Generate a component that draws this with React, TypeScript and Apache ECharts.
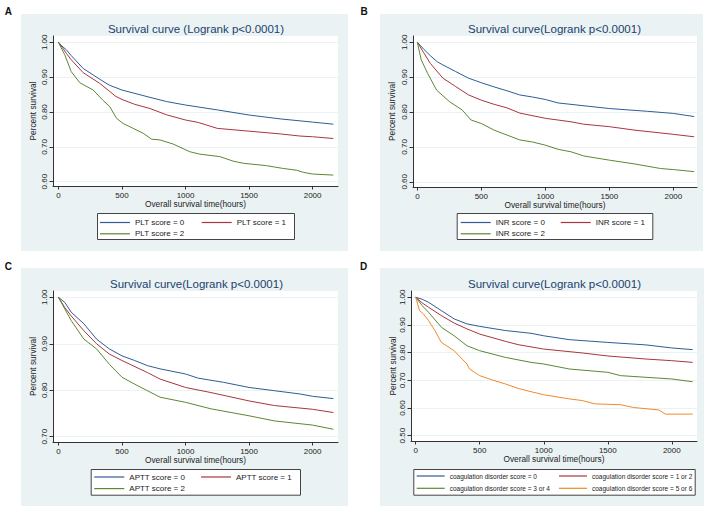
import React, { useEffect, useRef } from "react";
import * as echarts from "echarts";

// ---------- data ----------
const xTicks = [0, 500, 1000, 1500, 2000];
const yTicksAB = [0.6, 0.7, 0.8, 0.9, 1.0];
const yTicksC = [0.7, 0.8, 0.9, 1.0];
const yTicksD = [0.5, 0.6, 0.7, 0.8, 0.9, 1.0];

const panelTitles = [
  "Survival curve (Logrank p<0.0001)",
  "Survival curve(Logrank p<0.0001)",
  "Survival curve(Logrank p<0.0001)",
  "Survival curve(Logrank p<0.0001)",
];
const panelLetters = ["A", "B", "C", "D"];
const xTitle = "Overall survival time(hours)";
const yTitle = "Percent survival";

const namesA = ["PLT score = 0", "PLT score = 1", "PLT score = 2"];
const namesB = ["INR score = 0", "INR score = 1", "INR score = 2"];
const namesC = ["APTT score = 0", "APTT score = 1", "APTT score = 2"];
const namesD = [
  "coagulation disorder score = 0",
  "coagulation disorder score = 1 or 2",
  "coagulation disorder score = 3 or 4",
  "coagulation disorder score = 5 or 6",
];

const plt0 = [[0,1],[25,0.99],[63,0.978],[100,0.962],[194,0.925],[325,0.894],[400,0.877],[500,0.863],[720,0.842],[850,0.83],[1000,0.82],[1250,0.806],[1506,0.791],[1750,0.78],[2000,0.771],[2163,0.765]];
const plt1 = [[0,1],[30,0.985],[63,0.968],[100,0.95],[194,0.913],[325,0.882],[400,0.86],[450,0.845],[500,0.836],[600,0.822],[720,0.81],[850,0.792],[1000,0.777],[1100,0.77],[1250,0.753],[1500,0.745],[1750,0.737],[1900,0.731],[2000,0.729],[2163,0.724]];
const plt2 = [[0,1],[20,0.985],[50,0.964],[100,0.916],[168,0.884],[273,0.863],[349,0.834],[404,0.815],[457,0.782],[509,0.767],[588,0.753],[667,0.739],[732,0.722],[798,0.72],[903,0.708],[1034,0.686],[1113,0.679],[1270,0.672],[1375,0.659],[1454,0.653],[1638,0.646],[1769,0.638],[1874,0.633],[1926,0.627],[2000,0.622],[2163,0.619]];

const inr0 = [[0,1],[50,0.98],[100,0.962],[156,0.944],[200,0.935],[300,0.916],[400,0.897],[500,0.884],[600,0.872],[700,0.861],[800,0.849],[900,0.843],[1000,0.836],[1100,0.826],[1200,0.822],[1500,0.81],[1800,0.802],[2000,0.796],[2163,0.787]];
const inr1 = [[0,1],[50,0.97],[100,0.94],[200,0.897],[300,0.873],[400,0.849],[500,0.834],[600,0.822],[700,0.812],[800,0.797],[1000,0.782],[1200,0.772],[1300,0.765],[1500,0.758],[1700,0.748],[2000,0.736],[2163,0.729]];
const inr2 = [[0,1],[30,0.95],[80,0.911],[150,0.863],[250,0.83],[350,0.806],[420,0.777],[500,0.767],[600,0.748],[700,0.734],[800,0.72],[900,0.714],[1000,0.705],[1100,0.693],[1200,0.686],[1300,0.674],[1500,0.662],[1700,0.651],[1900,0.638],[2000,0.635],[2163,0.629]];

const aptt0 = [[0,1],[50,0.989],[100,0.968],[200,0.943],[300,0.91],[400,0.889],[500,0.874],[600,0.864],[700,0.853],[800,0.846],[1000,0.835],[1100,0.826],[1300,0.817],[1500,0.806],[1700,0.799],[1900,0.792],[2000,0.787],[2163,0.782]];
const aptt1 = [[0,1],[50,0.978],[100,0.96],[200,0.928],[300,0.9],[400,0.878],[500,0.864],[700,0.838],[800,0.824],[1000,0.806],[1200,0.795],[1500,0.777],[1700,0.767],[2000,0.759],[2163,0.752]];
const aptt2 = [[0,1],[50,0.975],[100,0.95],[200,0.91],[300,0.889],[400,0.856],[500,0.828],[600,0.813],[700,0.799],[800,0.785],[1000,0.774],[1200,0.76],[1500,0.745],[1700,0.734],[2000,0.725],[2163,0.716]];

const coag0 = [[0,1],[50,0.993],[100,0.982],[200,0.952],[300,0.922],[400,0.904],[500,0.895],[700,0.88],[900,0.87],[1000,0.861],[1200,0.847],[1500,0.837],[1800,0.828],[2000,0.817],[2163,0.811]];
const coag12 = [[0,1],[50,0.98],[100,0.964],[200,0.934],[300,0.907],[400,0.886],[500,0.867],[700,0.841],[800,0.829],[1000,0.813],[1300,0.799],[1500,0.788],[1800,0.777],[2000,0.771],[2163,0.765]];
const coag34 = [[0,1],[50,0.97],[100,0.946],[200,0.892],[300,0.861],[400,0.825],[500,0.807],[700,0.783],[900,0.765],[1000,0.759],[1200,0.741],[1500,0.729],[1600,0.717],[2000,0.705],[2163,0.695]];
const coag56 = [[0,1],[30,0.952],[60,0.94],[100,0.916],[150,0.88],[200,0.837],[300,0.807],[400,0.759],[420,0.741],[500,0.717],[600,0.701],[700,0.687],[800,0.671],[900,0.659],[1000,0.648],[1200,0.633],[1300,0.627],[1400,0.615],[1600,0.612],[1700,0.602],[1900,0.593],[1950,0.578],[2163,0.578]];

// ---------- styling ----------
const FONT = "Liberation Sans, Arial, Helvetica, sans-serif";
const BG = "#EAF2F3";
const BLUE = "#2F5C96";
const RED = "#A8363F";
const GREEN = "#5B8832";
const ORANGE = "#F08A28";
const AXIS = "#333333";

export default function App() {
  const ref = useRef<HTMLDivElement>(null);

  useEffect(() => {
    if (!ref.current) return;
    const chart = echarts.init(ref.current, undefined, { renderer: "svg" });

    const grids = [
      { left: 53, top: 36, width: 285, height: 150 },
      { left: 413, top: 36, width: 284, height: 151 },
      { left: 53, top: 291, width: 285, height: 151 },
      { left: 411, top: 291, width: 286, height: 150 },
    ].map((g) => ({ ...g, show: true, backgroundColor: "#ffffff", borderWidth: 0 }));

    const xRanges = [
      [-43, 2200],
      [-34, 2185],
      [-43, 2200],
      [-37, 2197],
    ];
    const yRanges = [
      [0.5877, 1.018],
      [0.585, 1.018],
      [0.6886, 1.0136],
      [0.4809, 1.0228],
    ];
    const yTickSets = [yTicksAB, yTicksAB, yTicksC, yTicksD];
    const yNameGaps = [16, 17, 16, 14];

    const xAxes = xRanges.map((r, i) => ({
      type: "value",
      gridIndex: i,
      min: r[0],
      max: r[1],
      name: xTitle,
      nameLocation: "middle",
      nameGap: 12,
      nameTextStyle: { fontSize: 8.3, color: "#222", fontFamily: FONT },
      axisLine: { show: true, onZero: false, lineStyle: { color: AXIS, width: 1 } },
      axisTick: { show: true, length: 3.5, customValues: xTicks, lineStyle: { color: AXIS } },
      axisLabel: {
        show: true,
        customValues: xTicks,
        fontSize: 8,
        color: "#222",
        fontFamily: FONT,
        margin: 5,
        formatter: (v: number) => String(Math.round(v)),
      },
      splitLine: { show: false },
    }));

    const yAxes = yRanges.map((r, i) => ({
      type: "value",
      gridIndex: i,
      min: r[0],
      max: r[1],
      name: yTitle,
      nameLocation: "middle",
      nameGap: yNameGaps[i],
      nameRotate: 90,
      nameTextStyle: { fontSize: 8.3, color: "#222", fontFamily: FONT },
      axisLine: { show: true, onZero: false, lineStyle: { color: AXIS, width: 1 } },
      axisTick: { show: true, length: 3.5, customValues: yTickSets[i], lineStyle: { color: AXIS } },
      axisLabel: {
        show: true,
        customValues: yTickSets[i],
        rotate: 90,
        fontSize: 8,
        color: "#222",
        fontFamily: FONT,
        margin: 5,
        formatter: (v: number) => v.toFixed(2),
      },
      splitLine: { show: true, lineStyle: { color: BG, width: 1 } },
    }));

    const mk = (name: string, data: number[][], color: string, idx: number) => ({
      type: "line",
      name,
      data,
      xAxisIndex: idx,
      yAxisIndex: idx,
      symbol: "none",
      showSymbol: false,
      color,
      itemStyle: { color },
      lineStyle: { color, width: 1 },
      clip: true,
    });

    const series = [
      mk(namesA[0], plt0, BLUE, 0),
      mk(namesA[1], plt1, RED, 0),
      mk(namesA[2], plt2, GREEN, 0),
      mk(namesB[0], inr0, BLUE, 1),
      mk(namesB[1], inr1, RED, 1),
      mk(namesB[2], inr2, GREEN, 1),
      mk(namesC[0], aptt0, BLUE, 2),
      mk(namesC[1], aptt1, RED, 2),
      mk(namesC[2], aptt2, GREEN, 2),
      mk(namesD[0], coag0, BLUE, 3),
      mk(namesD[1], coag12, RED, 3),
      mk(namesD[2], coag34, GREEN, 3),
      mk(namesD[3], coag56, ORANGE, 3),
    ];

    const lg = (
      data: string[],
      left: number,
      top: number,
      fontSize: number,
      itemWidth: number,
      pitch: number
    ) => ({
      data,
      left,
      top,
      orient: "vertical",
      icon: "rect",
      itemWidth,
      itemHeight: 1.2,
      itemGap: pitch - 10,
      padding: 0,
      z: 10,
      selectedMode: false,
      textStyle: {
        fontSize,
        lineHeight: 10,
        height: 10,
        color: "#222",
        fontFamily: FONT,
      },
    });

    const legends = [
      lg([namesA[0], namesA[2]], 100, 217.5, 8, 30, 11.3),
      lg([namesA[1]], 201.7, 217.5, 8, 30, 11.3),
      lg([namesB[0], namesB[2]], 460.7, 217.5, 8, 30, 11.3),
      lg([namesB[1]], 560.7, 217.5, 8, 30, 11.3),
      lg([namesC[0], namesC[2]], 94.3, 472, 8, 30, 11.6),
      lg([namesC[1]], 201, 472, 8, 30, 11.6),
      lg([namesD[0], namesD[2]], 416.7, 471, 6.5, 28, 12.3),
      lg([namesD[1], namesD[3]], 559, 471, 6.5, 28, 12.3),
    ];

    const bgRects = [
      [21, 14, 327, 237],
      [380, 14, 323, 237],
      [21, 268, 327, 238],
      [380, 268, 324, 238],
    ].map((r) => ({
      type: "rect",
      z: -100,
      shape: { x: r[0], y: r[1], width: r[2], height: r[3] },
      style: { fill: BG },
      silent: true,
    }));

    const legendBoxes = [
      [97, 213, 197, 26],
      [456.7, 213, 195.6, 26],
      [90.7, 469, 209.3, 25.7],
      [413.3, 469, 281.4, 25.7],
    ].map((r) => ({
      type: "rect",
      z: 2,
      shape: { x: r[0] + 0.5, y: r[1] + 0.5, width: r[2], height: r[3] },
      style: { fill: "#ffffff", stroke: "#444444", lineWidth: 1 },
      silent: true,
    }));

    const titleTexts = [
      [196, 29.3],
      [554.5, 29.3],
      [196.5, 284],
      [554.5, 284],
    ].map((p, i) => ({
      type: "text",
      z: 5,
      x: p[0],
      y: p[1],
      style: {
        text: panelTitles[i],
        fontSize: 11.5,
        fontFamily: FONT,
        fill: "#1A3F6F",
        align: "center",
        verticalAlign: "middle",
      },
      silent: true,
    }));

    const letterTexts = [
      [8.4, 11.7],
      [364, 11.7],
      [8.4, 266.5],
      [363.6, 266.7],
    ].map((p, i) => ({
      type: "text",
      z: 5,
      x: p[0],
      y: p[1],
      style: {
        text: panelLetters[i],
        fontSize: 10,
        fontWeight: "bold",
        fontFamily: FONT,
        fill: "#111",
        align: "center",
        verticalAlign: "middle",
      },
      silent: true,
    }));

    chart.setOption({
      animation: false,
      backgroundColor: "#ffffff",
      grid: grids,
      xAxis: xAxes,
      yAxis: yAxes,
      legend: legends,
      series,
      graphic: { elements: [...bgRects, ...legendBoxes, ...titleTexts, ...letterTexts] },
    });

    return () => chart.dispose();
  }, []);

  return (
    <div
      ref={ref}
      style={{ position: "absolute", left: 0, top: 0, width: 708, height: 509 }}
    />
  );
}
